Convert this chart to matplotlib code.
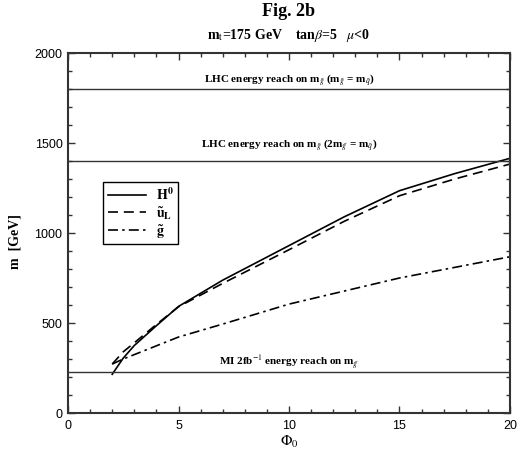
import matplotlib
matplotlib.use("Agg")
import matplotlib.pyplot as plt
from matplotlib.ticker import MultipleLocator

plt.rcParams['mathtext.fontset'] = 'stix'

# Data
phi_H = [2.0, 2.5, 3.0, 4.0, 5.0, 7.0, 10.0, 12.5, 15.0, 17.5, 20.0]
m_H0 = [215, 305, 375, 485, 592, 738, 930, 1090, 1235, 1330, 1415]

phi_u = [2.0, 2.5, 3.0, 4.0, 5.0, 7.0, 10.0, 12.5, 15.0, 17.5, 20.0]
m_uL = [272, 340, 390, 492, 590, 720, 907, 1065, 1207, 1300, 1383]

phi_g = [2.0, 2.5, 5.0, 7.0, 10.0, 15.0, 20.0]
m_g = [272, 300, 422, 494, 605, 750, 868]

hlines = [1800, 1400, 226]
hline_labels = [
    r'LHC energy reach on m$_{\tilde{g}}$ (m$_{\tilde{g}}$ = m$_{\tilde{q}}$)',
    r'LHC energy reach on m$_{\tilde{g}}$ (2m$_{\tilde{g}}$ = m$_{\tilde{q}}$)',
    r'MI 2fb$^{-1}$ energy reach on m$_{\tilde{g}}$',
]
label_y = [1855, 1495, 290]

series_labels = [r'$\mathbf{H^0}$', r'$\mathbf{\tilde{u}_L}$', r'$\mathbf{\tilde{g}}$']

fig = plt.figure(figsize=(5.18, 4.56), dpi=100)
ax = fig.add_axes([68/518, 42/456, 442/518, 360/456])

serif = 'Liberation Serif'
sans = 'Liberation Sans'

l1, = ax.plot(phi_H, m_H0, color='black', lw=1.2, ls='-')
l2, = ax.plot(phi_u, m_uL, color='black', lw=1.2, ls=(0, (6, 3.5)))
l3, = ax.plot(phi_g, m_g, color='black', lw=1.2, ls=(0, (6, 2.5, 1.5, 2.5)))

for y in hlines:
    ax.axhline(y, color='#333333', lw=1.0)
for t, y in zip(hline_labels, label_y):
    ax.text(10, y, t, ha='center', va='center', fontsize=8,
            fontweight='bold', family=serif)

ax.set_xlim(0, 20)
ax.set_ylim(0, 2000)
ax.xaxis.set_major_locator(MultipleLocator(5))
ax.xaxis.set_minor_locator(MultipleLocator(1))
ax.yaxis.set_major_locator(MultipleLocator(500))
ax.yaxis.set_minor_locator(MultipleLocator(100))
ax.tick_params(which='both', direction='in', top=True, right=True, width=1.0, color='#333333')
ax.tick_params(which='major', length=5, labelsize=9, pad=4)
ax.tick_params(which='minor', length=3)
for lab in ax.get_xticklabels() + ax.get_yticklabels():
    lab.set_family(sans)
for s in ax.spines.values():
    s.set_linewidth(1.5)
    s.set_color('#333333')

ax.set_xlabel(r'$\Phi_0$', fontsize=11, labelpad=2)
ax.set_ylabel('m  [GeV]', fontsize=10, fontweight='bold', family=serif)
ax.yaxis.set_label_coords(-0.105, 0.48)

leg = ax.legend([l1, l2, l3], series_labels, loc='upper left',
                bbox_to_anchor=(0.08, 0.6425), borderaxespad=0,
                fancybox=False, edgecolor='black', framealpha=1,
                fontsize=10, handlelength=2.8, handletextpad=0.7,
                labelspacing=0.1, borderpad=0.3)
leg.get_frame().set_linewidth(1.0)

fig.text(289/518, 1 - 11/456, 'Fig. 2b', ha='center', va='center',
         fontsize=13, fontweight='bold', family=serif)
fig.text(289/518, 1 - 36/456, r'm$_\mathrm{t}$=175 GeV    tan$\beta$=5   $\mu$<0',
         ha='center', va='center', fontsize=10, fontweight='bold', family=serif)

fig.savefig('out.png', dpi=100)
